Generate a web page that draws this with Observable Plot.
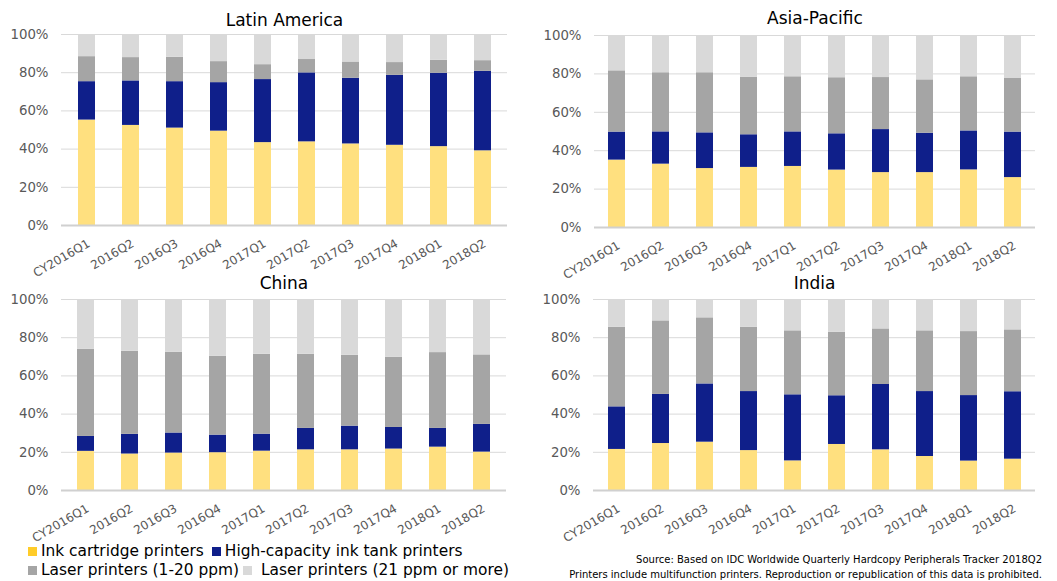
<!DOCTYPE html>
<html>
<head>
<meta charset="utf-8">
<script src="https://cdn.jsdelivr.net/npm/d3@7"></script>
<script src="https://cdn.jsdelivr.net/npm/@observablehq/plot@0.6"></script>
<style>
  body { margin: 0; background: white; font-family: "DejaVu Sans", Verdana, sans-serif; }
  #root { position: relative; width: 1057px; height: 581px; overflow: hidden; background: white; }
  .panel { position: absolute; }
  .legend { position: absolute; left: 28px; font-size: 15.4px; color: #000; white-space: nowrap; }
  .legend .item { display: inline-flex; align-items: center; margin-right: 8px; }
  .legend .sw { display: inline-block; width: 9px; height: 9px; margin-right: 4px; }
  .source { position: absolute; right: 15px; top: 552px; font-size: 10px; line-height: 15px; text-align: right; color: #000; white-space: nowrap; }
</style>
</head>
<body>
<div id="root"></div>
<script>
const quarters = ["CY2016Q1","2016Q2","2016Q3","2016Q4","2017Q1","2017Q2","2017Q3","2017Q4","2018Q1","2018Q2"];
const categories = ["Ink cartridge printers","High-capacity ink tank printers","Laser printers (1-20 ppm)","Laser printers (21 ppm or more)"];
const barColors = ["#FFE07F","#0F1F8A","#A5A5A5","#D9D9D9"];
const legendColors = ["#FFCC29","#0F1F8A","#A5A5A5","#D9D9D9"];
const yTicks = [0, 20, 40, 60, 80, 100];

// Latin America
const laInk    = [55.2, 52.4, 51.0, 49.4, 43.4, 43.8, 42.7, 42.0, 41.3, 39.1];
const laTank   = [20.1, 23.3, 24.3, 25.4, 33.0, 36.1, 34.4, 36.6, 38.4, 41.6];
const laLaserS = [13.1, 12.2, 12.8, 11.0, 7.8, 7.0, 8.5, 6.7, 6.8, 5.6];
const laLaserL = [11.6, 12.1, 11.9, 14.2, 15.8, 13.1, 14.4, 14.7, 13.5, 13.7];
// Asia-Pacific
const apInk    = [35.1, 33.0, 30.7, 31.3, 31.8, 29.9, 28.6, 28.6, 30.0, 26.0];
const apTank   = [14.6, 16.8, 18.6, 17.0, 18.0, 18.9, 22.4, 20.5, 20.3, 23.7];
const apLaserS = [31.9, 30.8, 31.3, 30.0, 28.7, 29.2, 27.1, 27.8, 28.2, 27.9];
const apLaserL = [18.4, 19.4, 19.4, 21.7, 21.5, 22.0, 21.9, 23.1, 21.5, 22.4];
// China
const cnInk    = [20.5, 19.1, 19.6, 19.8, 20.6, 21.3, 21.3, 21.7, 22.7, 20.1];
const cnTank   = [7.8, 10.3, 10.5, 9.2, 8.9, 11.2, 12.4, 11.3, 9.8, 14.5];
const cnLaserS = [45.7, 43.5, 42.3, 41.3, 41.8, 38.8, 37.1, 36.8, 39.7, 36.4];
const cnLaserL = [26.0, 27.1, 27.6, 29.7, 28.7, 28.7, 29.2, 30.2, 27.8, 29.0];
// India
const inInk    = [21.5, 24.6, 25.3, 20.9, 15.5, 24.1, 21.3, 17.8, 15.4, 16.4];
const inTank   = [22.3, 25.7, 30.5, 30.9, 34.6, 25.5, 34.2, 34.0, 34.3, 35.3];
const inLaserS = [41.7, 38.5, 34.6, 33.7, 33.5, 33.3, 29.1, 31.8, 33.5, 32.4];
const inLaserL = [14.5, 11.2, 9.6, 14.5, 16.4, 17.1, 15.4, 16.4, 16.8, 15.9];

const root = document.getElementById("root");

function toRows(series) {
  const rows = [];
  series.forEach((vals, ci) => {
    vals.forEach((v, qi) => rows.push({quarter: quarters[qi], category: categories[ci], value: v}));
  });
  return rows;
}

function panel({title, series, left, top, width, height, mt, mb, ml, mr, titleDy}) {
  const rows = toRows(series);
  const chart = Plot.plot({
    width, height,
    marginTop: mt, marginBottom: mb, marginLeft: ml, marginRight: mr,
    style: {background: "transparent", fontFamily: "'DejaVu Sans', Verdana, sans-serif", color: "#595959", overflow: "visible"},
    x: {domain: quarters, paddingInner: 0.62, paddingOuter: 0.31, label: null, axis: null},
    y: {domain: [0, 100], label: null},
    color: {domain: categories, range: barColors},
    marks: [
      Plot.ruleY(yTicks.filter(d => d > 0), {stroke: "#D9D9D9", strokeWidth: 1}),
      Plot.barY(rows, {x: "quarter", y: "value", fill: "category", order: categories}),
      Plot.ruleY([0], {stroke: "#D0D0D0", strokeWidth: 2}),
      Plot.text(quarters, {x: d => d, text: d => d, frameAnchor: "bottom", rotate: -30, textAnchor: "end", lineAnchor: "middle", dx: 2, dy: 17, fontSize: 12, fill: "#595959"}),
      Plot.axisY({ticks: yTicks, tickFormat: d => d + "%", tickSize: 0, tickPadding: 13, fontSize: 13.3, fill: "#595959", label: null}),
      Plot.text([title], {frameAnchor: "top", lineAnchor: "middle", dy: titleDy, text: d => d, fontSize: 17, fill: "#000"})
    ]
  });
  const div = document.createElement("div");
  div.className = "panel";
  div.style.left = left + "px";
  div.style.top = top + "px";
  div.appendChild(chart);
  root.appendChild(div);
}

panel({title: "Latin America", series: [laInk, laTank, laLaserS, laLaserL], left: 0, top: 0, width: 528, height: 270, mt: 34, mb: 45, ml: 61, mr: 21, titleDy: -14});
panel({title: "Asia-Pacific", series: [apInk, apTank, apLaserS, apLaserL], left: 528, top: 0, width: 529, height: 270, mt: 35, mb: 43, ml: 66, mr: 22, titleDy: -17});
panel({title: "China", series: [cnInk, cnTank, cnLaserS, cnLaserL], left: 0, top: 270, width: 528, height: 272, mt: 29, mb: 52, ml: 61, mr: 22, titleDy: -16});
panel({title: "India", series: [inInk, inTank, inLaserS, inLaserL], left: 528, top: 270, width: 529, height: 272, mt: 29, mb: 52, ml: 65, mr: 22, titleDy: -16});

// Legend
const legend = document.createElement("div");
legend.className = "legend";
legend.style.top = "542px";
legend.style.lineHeight = "19px";
const lines = [[0, 1], [2, 3]];
legend.innerHTML = lines.map(line => "<div>" + line.map(i =>
  `<span class="item"${i === 2 ? ' style="margin-right:4px"' : ''}><span class="sw" style="background:${legendColors[i]}${i === 3 ? ';margin-right:9px' : ''}"></span>${categories[i]}</span>`
).join("") + "</div>").join("");
root.appendChild(legend);

const source = document.createElement("div");
source.className = "source";
source.innerHTML = "Source: Based on IDC Worldwide Quarterly Hardcopy Peripherals Tracker 2018Q2<br>Printers include multifunction printers. Reproduction or republication of this data is prohibited.";
root.appendChild(source);
</script>
</body>
</html>
